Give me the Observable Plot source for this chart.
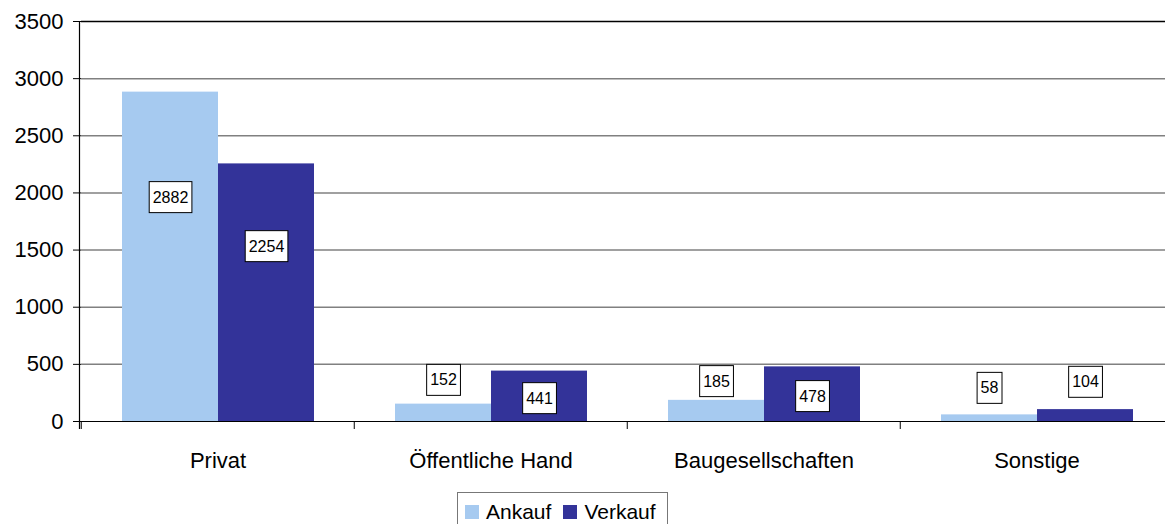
<!DOCTYPE html>
<html>
<head>
<meta charset="utf-8">
<script src="https://cdn.jsdelivr.net/npm/d3@7"></script>
<script src="https://cdn.jsdelivr.net/npm/@observablehq/plot@0.6"></script>
<style>
  html, body { margin: 0; padding: 0; background: #fff; overflow: hidden; width: 1165px; height: 524px; }
  body { font-family: "Liberation Sans", Arial, sans-serif; position: relative; }
  #chart svg { max-width: none !important; display: block; }
  #legend { position: absolute; left: 457px; top: 492px; width: 209px; height: 38px;
    border: 1px solid #777; display: flex; align-items: center; font-size: 21px; color: #000; background: #fff; }
  .sw { display: inline-block; width: 14px; height: 14px; }
</style>
</head>
<body>
<div id="chart"></div>
<div id="legend"></div>
<script>
const categories = ["Privat", "Öffentliche Hand", "Baugesellschaften", "Sonstige"];
const series = ["Ankauf", "Verkauf"];
const ankauf = [2882, 152, 185, 58];
const verkauf = [2254, 441, 478, 104];
// where each value label sits (value units)
const ankaufLabelAt = [1960, 361, 350, 291];
const verkaufLabelAt = [1531, 201, 219, 344];
const yTicks = [0, 500, 1000, 1500, 2000, 2500, 3000, 3500];
const colors = ["#A6CAF0", "#333399"];

const rows = categories.flatMap((c, i) => [
  {category: c, series: "Ankauf", value: ankauf[i], labelAt: ankaufLabelAt[i]},
  {category: c, series: "Verkauf", value: verkauf[i], labelAt: verkaufLabelAt[i]}
]);

const W = 1174, ML = 80, MR = 0;
const halfStep = (W - ML - MR) / categories.length / 2;

const plot = Plot.plot({
  width: W, height: 488,
  marginLeft: ML, marginRight: MR, marginTop: 21, marginBottom: 67,
  style: {fontFamily: "'Liberation Sans', Arial, sans-serif", background: "white", color: "#000", overflow: "visible", maxWidth: "none"},
  fx: {domain: categories, padding: 0, label: null},
  x: {domain: series, paddingInner: 0, paddingOuter: 0.416, axis: null, label: null},
  y: {domain: [0, 3500], label: null},
  color: {domain: series, range: colors},
  marks: [
    Plot.ruleY(yTicks.filter(t => t > 0 && t < 3500), {stroke: "#808080", strokeWidth: 1.5}),
    Plot.ruleY([3500], {stroke: "#000", strokeWidth: 1.5}),
    Plot.barY(rows, {fx: "category", x: "series", y: "value", fill: "series"}),
    Plot.ruleY([0], {stroke: "#000", strokeWidth: 1.2}),
    Plot.axisY({ticks: yTicks, tickFormat: d => String(d), tickSize: 8, tickPadding: 10, fontSize: 22, stroke: "#000"}),
    Plot.axisFx({anchor: "bottom", tickSize: 0, tickPadding: 31, fontSize: 22}),
    Plot.axisFx({anchor: "bottom", tickSize: 8, tickFormat: () => "", dx: -halfStep, stroke: "#000"}),
    Plot.text(rows, {fx: "category", x: "series", y: "labelAt", text: d => String(d.value), fontSize: 16, fill: "#000"})
  ]
});
document.getElementById("chart").appendChild(plot);

// y axis line
const ys = plot.scale("y");
d3.select(plot).append("line")
  .attr("x1", ML - 0.5).attr("x2", ML - 0.5)
  .attr("y1", ys.apply(3500)).attr("y2", ys.apply(0) + 8)
  .attr("stroke", "#000").attr("stroke-width", 1.2);

// boxes behind value labels
d3.select(plot).selectAll('g[aria-label="text"] text').each(function() {
  const b = this.getBBox();
  const cy = b.y + b.height / 2;
  d3.select(this.parentNode).insert("rect", () => this)
    .attr("transform", this.getAttribute("transform"))
    .attr("x", b.x - 3.5).attr("y", cy - 15.5)
    .attr("width", b.width + 7).attr("height", 31)
    .attr("fill", "#fff").attr("stroke", "#000").attr("stroke-width", 1);
});

// legend
const lg = d3.select("#legend");
series.forEach((s, i) => {
  lg.append("span").attr("class", "sw").style("background", colors[i])
    .style("margin-left", i === 0 ? "7px" : "12px").style("margin-right", "7px");
  lg.append("span").text(s);
});
</script>
</body>
</html>
